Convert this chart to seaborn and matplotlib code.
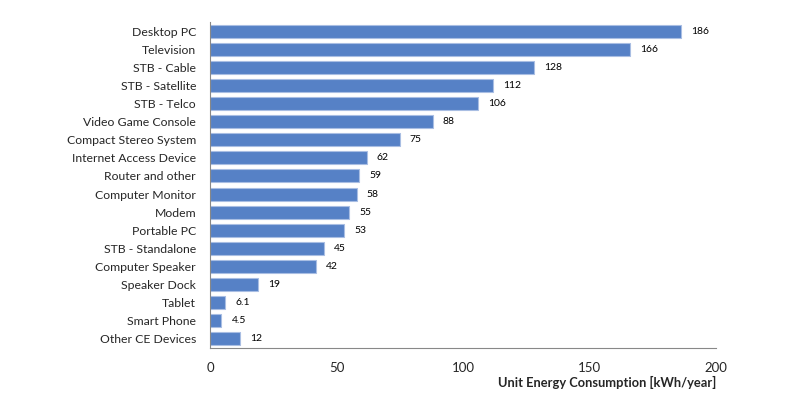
import matplotlib
matplotlib.use("Agg")
import matplotlib.pyplot as plt
import numpy as np
import pandas as pd
import seaborn as sns

devices = ["Desktop PC", "Television", "STB - Cable", "STB - Satellite", "STB - Telco",
           "Video Game Console", "Compact Stereo System", "Internet Access Device",
           "Router and other", "Computer Monitor", "Modem", "Portable PC",
           "STB - Standalone", "Computer Speaker", "Speaker Dock", "Tablet",
           "Smart Phone", "Other CE Devices"]
energy = [186, 166, 128, 112, 106, 88, 75, 62, 59, 58, 55, 53, 45, 42, 19, 6.1, 4.5, 12]
value_labels = ["186", "166", "128", "112", "106", "88", "75", "62", "59", "58", "55",
                "53", "45", "42", "19", "6.1", "4.5", "12"]

df = pd.DataFrame({"device": devices, "energy": energy})

sns.set_style("white")
plt.rcParams["font.family"] = ["Lato", "DejaVu Sans"]

fig = plt.figure(figsize=(8, 4), dpi=100)
ax = fig.add_axes([0.2625, 0.13, 0.6325, 0.815])

sns.barplot(data=df, x="energy", y="device", orient="h", color="#5681C6",
            edgecolor="#A9BEE3", linewidth=0.8, width=0.72, saturation=1, ax=ax)

for i, (v, lab) in enumerate(zip(energy, value_labels)):
    ax.text(v + 4, i, lab, va="center", ha="left", fontsize=7.5, color="black")

ax.set_xlim(0, 200)
ax.set_ylim(len(devices) - 0.5, -0.5)
ax.set_xticks([0, 50, 100, 150, 200])
ax.tick_params(axis="x", direction="in", length=4, color="#888888", labelsize=9.5, pad=10)
ax.tick_params(axis="y", which="major", length=0, labelsize=8.8, pad=10)
ax.set_yticks(np.arange(-0.5, len(devices), 1), minor=True)
ax.tick_params(axis="y", which="minor", direction="out", length=4, color="#888888")

for s in ["top", "right"]:
    ax.spines[s].set_visible(False)
for s in ["left", "bottom"]:
    ax.spines[s].set_color("#888888")
    ax.spines[s].set_linewidth(0.8)

ax.set_ylabel("")
ax.set_xlabel("Unit Energy Consumption [kWh/year]", fontsize=9.3, fontweight="bold")
ax.xaxis.set_label_coords(1.0, -0.085)
ax.xaxis.label.set_horizontalalignment("right")

fig.savefig("out.png", dpi=100)
